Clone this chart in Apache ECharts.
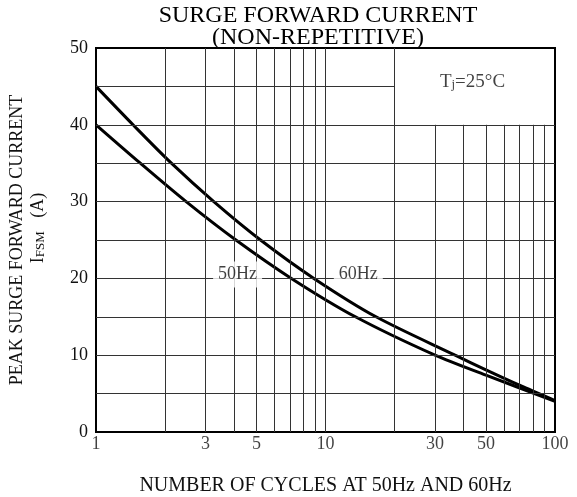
<!DOCTYPE html>
<html>
<head>
<meta charset="utf-8">
<script src="https://cdn.jsdelivr.net/npm/echarts@6/dist/echarts.min.js"></script>
<style>
  html, body { margin: 0; padding: 0; background: #fff; }
  #chart { width: 577px; height: 497px; }
</style>
</head>
<body>
<div id="chart"></div>
<script>
// values (cycles where each curve meets a grid line)
const cycles60Hz = [1, 1.45, 2.13, 3.26, 5.21, 8.9, 16.6, 36.7, 50, 70, 100];
const current60Hz = [45, 40, 35, 30, 25, 20, 15, 10, 8.1, 6.1, 4.1];
const cycles50Hz = [1, 1.56, 2.47, 4.07, 7.1, 13.5, 30, 50, 100];
const current50Hz = [40, 35, 30, 25, 20, 15, 10, 7.4, 4.0];
const xTickLabels = [1, 3, 5, 10, 30, 50, 100];
const gridX = [2, 3, 4, 5, 6, 7, 8, 9, 10, 20, 30, 40, 50, 60, 70, 80, 90];
const gridY = [5, 10, 15, 20, 25, 30, 35, 40, 45];
// the Tj note sits in a blank box: x 20..100, y 40..50
const noteBox = { x: 20, y: 40 };
const curveLabels = [[4.14, 20.5, '50Hz'], [13.9, 20.5, '60Hz']];

const serif = 'Liberation Serif';
const ink = '#111';

let chart = echarts.init(document.getElementById('chart'));

let gridLines = [];
gridX.forEach(function (x) {
  let top = x > noteBox.x ? noteBox.y : 50;
  gridLines.push([{ coord: [x, 0] }, { coord: [x, top] }]);
});
gridY.forEach(function (y) {
  let right = y > noteBox.y ? noteBox.x : 100;
  gridLines.push([{ coord: [1, y] }, { coord: [right, y] }]);
});

function pairs(xs, ys) {
  return xs.map(function (x, i) { return [x, ys[i]]; });
}

let option = {
  animation: false,
  grid: {
    left: 96, right: 22, top: 48, bottom: 65,
    outerBoundsMode: 'none',
    show: true, borderColor: '#000', borderWidth: 2
  },
  graphic: [
    {
      type: 'text', x: 318, y: 5,
      style: {
        text: 'SURGE FORWARD CURRENT\n(NON-REPETITIVE)',
        font: '24px "' + serif + '"', fill: '#000',
        textAlign: 'center', lineHeight: 22
      }
    },
    {
      type: 'text', x: 17, y: 240, rotation: Math.PI / 2,
      style: {
        text: 'PEAK SURGE FORWARD CURRENT',
        font: '18px "' + serif + '"', fill: ink,
        textAlign: 'center', textVerticalAlign: 'middle'
      }
    },
    {
      type: 'text', x: 41, y: 228, rotation: Math.PI / 2,
      style: {
        text: '{i|I}{s|FSM}{i|   (A)}',
        textAlign: 'center', textVerticalAlign: 'middle',
        rich: {
          i: { fontFamily: serif, fontSize: 18, fill: ink, padding: [0, 0, 5, 0] },
          s: { fontFamily: serif, fontSize: 13, fill: ink }
        }
      }
    }
  ],
  xAxis: {
    type: 'log', logBase: 10, min: 1, max: 100,
    name: 'NUMBER OF CYCLES AT 50Hz AND 60Hz',
    nameLocation: 'middle', nameGap: 44,
    nameTextStyle: { fontFamily: serif, fontSize: 20, color: ink },
    axisLine: { lineStyle: { color: '#000', width: 2 } },
    axisTick: { show: false },
    axisLabel: { show: false },
    splitLine: { show: false }
  },
  yAxis: {
    type: 'value', min: 0, max: 50, interval: 10,
    axisLine: { show: true, lineStyle: { color: '#000', width: 2 } },
    axisTick: { show: false },
    axisLabel: { fontFamily: serif, fontSize: 18, color: ink, margin: 8 },
    splitLine: { show: false }
  },
  series: [
    {
      name: 'grid', type: 'line', data: [], z: 1, silent: true,
      markLine: {
        silent: true, symbol: 'none', animation: false,
        label: { show: false },
        lineStyle: { color: '#333', width: 1, type: 'solid' },
        emphasis: { disabled: true },
        data: gridLines
      }
    },
    {
      name: '60Hz', type: 'line', smooth: 0.3,
      showSymbol: false, z: 3,
      lineStyle: { color: '#000', width: 3 },
      data: pairs(cycles60Hz, current60Hz)
    },
    {
      name: '50Hz', type: 'line', smooth: 0.3,
      showSymbol: false, z: 3,
      lineStyle: { color: '#000', width: 3 },
      data: pairs(cycles50Hz, current50Hz)
    },
    {
      name: 'xlabels', type: 'scatter', symbolSize: 0, z: 4, silent: true,
      data: xTickLabels.map(function (v) { return [v, 0]; }),
      label: {
        show: true, position: 'bottom', distance: 3,
        fontFamily: serif, fontSize: 18, color: ink,
        formatter: function (p) { return p.value[0]; }
      }
    },
    {
      name: 'notes', type: 'scatter', symbolSize: 0, z: 5, silent: true,
      data: curveLabels,
      label: {
        show: true, position: 'inside',
        fontFamily: serif, fontSize: 18, color: ink,
        backgroundColor: '#fff', padding: [2, 5, 6, 5],
        formatter: function (p) { return p.value[2]; }
      }
    },
    {
      name: 'tj', type: 'scatter', symbolSize: 0, z: 5, silent: true,
      data: [[43.7, 45.3]],
      label: {
        show: true, position: 'inside',
        formatter: '{t|T}{s|j}{t|=25°C}',
        rich: {
          t: { fontFamily: serif, fontSize: 19, color: ink, padding: [0, 0, 4, 0] },
          s: { fontFamily: serif, fontSize: 13, color: ink }
        }
      }
    }
  ]
};

chart.setOption(option);
</script>
</body>
</html>
